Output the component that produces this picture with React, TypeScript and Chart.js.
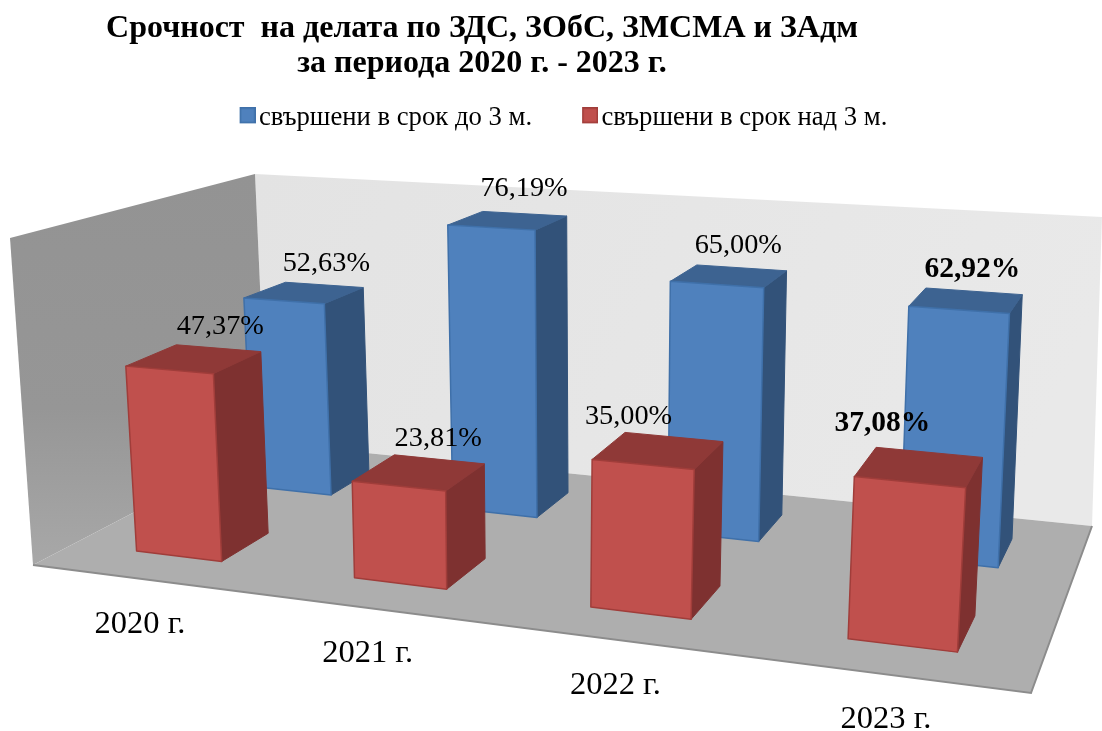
import React, { useEffect, useRef } from "react";
import { Chart, registerables } from "chart.js";

Chart.register(...registerables);

const categories = ["2020 г.", "2021 г.", "2022 г.", "2023 г."];
const onTimeLabel = "свършени в срок до 3 м.";
const lateLabel = "свършени в срок над 3 м.";
const onTimeValues = [52.63, 76.19, 65.0, 62.92];
const lateValues = [47.37, 23.81, 35.0, 37.08];
const titleLines = ["Срочност  на делата по ЗДС, ЗОбС, ЗМСМА и ЗАдм", "за периода 2020 г. - 2023 г."];
const axisMax = 80;

// ---- styling and 3D view settings ----
const SERIF = "'Liberation Serif', 'Times New Roman', serif";
type P = [number, number];
const FLOOR: P[] = [[33, 565], [1031, 693], [1092, 526], [267, 443]]; // front-left, front-right, back-right, back-left
const WALL_TOP: P[] = [[10, 238], [255, 174], [1102, 217]]; // left-front, left-back, right-back
const LEAN = [-23, 22, 14, -12]; // sideways shift of a full-height column at each floor corner
const HEIGHT = [316, 368, 304, 266]; // height of a full-height column at each floor corner
const DEPTH = [[0.65, 0.85], [0.15, 0.35]]; // per dataset, front and back depth
const BLUE = { front: "#4F81BD", side: "#325279", top: "#3D6391", edge: "#3F70A9" };
const RED = { front: "#C0504D", side: "#7E3130", top: "#8F3937", edge: "#A03D3A" };
const LABEL_SHIFT = [
  [[22, -29], [16, -32], [9, -30], [6, -31]],
  [[26, -32], [19, -34], [-30, -34], [-37, -43]],
];
const BOLD_INDEX = 3;

function quadMap(Q: P[], u: number, w: number): P {
  const [[x0, y0], [x1, y1], [x2, y2], [x3, y3]] = Q;
  const dx1 = x1 - x2, dx2 = x3 - x2, sx = x0 - x1 + x2 - x3;
  const dy1 = y1 - y2, dy2 = y3 - y2, sy = y0 - y1 + y2 - y3;
  const den = dx1 * dy2 - dx2 * dy1;
  const g = (sx * dy2 - dx2 * sy) / den;
  const h = (dx1 * sy - sx * dy1) / den;
  const t = g * u + h * w + 1;
  return [
    ((x1 - x0 + g * x1) * u + (x3 - x0 + h * x3) * w + x0) / t,
    ((y1 - y0 + g * y1) * u + (y3 - y0 + h * y3) * w + y0) / t,
  ];
}
function bilinear(c: number[], u: number, w: number) {
  return c[0] * (1 - u) * (1 - w) + c[1] * u * (1 - w) + c[2] * u * w + c[3] * (1 - u) * w;
}
function project(u: number, v: number, w: number): P {
  const a = quadMap(FLOOR, u, w);
  return [a[0] + bilinear(LEAN, u, w) * v, a[1] - bilinear(HEIGHT, u, w) * v];
}
function poly(ctx: CanvasRenderingContext2D, pts: P[], fill: string | CanvasGradient, stroke?: string, lw = 1) {
  ctx.beginPath();
  pts.forEach((p, i) => (i ? ctx.lineTo(p[0], p[1]) : ctx.moveTo(p[0], p[1])));
  ctx.closePath();
  ctx.fillStyle = fill;
  ctx.fill();
  if (stroke) {
    ctx.strokeStyle = stroke;
    ctx.lineWidth = lw;
    ctx.lineJoin = "round";
    ctx.stroke();
  }
}
function marker(fill: string, edge: string) {
  // the empty strip on the left and below places the square beside its text
  const c = document.createElement("canvas");
  c.width = 21;
  c.height = 22;
  const g = c.getContext("2d")!;
  g.fillStyle = edge;
  g.fillRect(5, 0, 16, 16);
  g.fillStyle = fill;
  g.fillRect(6.5, 1.5, 13, 13);
  return c;
}

const scene3d = {
  id: "scene3d",
  afterLayout(chart: any) {
    const t = chart.titleBlock;
    t.left -= 69;
    t.right -= 69;
    const l = chart.legend;
    l.left += 15;
    l.right += 15;
    l.top = 50;
  },
  beforeDatasetsDraw(chart: any) {
    const ctx: CanvasRenderingContext2D = chart.ctx;
    const area = chart.chartArea;
    const xs = chart.scales.x;
    const ys = chart.scales.y;
    const toU = (px: number) => (px - area.left) / (area.right - area.left);
    const toV = (py: number) => (area.bottom - py) / (area.bottom - area.top);

    // walls and floor
    const [tl, tb, tr] = WALL_TOP;
    const backGrad = ctx.createLinearGradient(255, 174, 1000, 520);
    backGrad.addColorStop(0, "#E3E3E3");
    backGrad.addColorStop(1, "#E9E9E9");
    poly(ctx, [project(0, 0, 1), project(1, 0, 1), tr, tb], backGrad);
    const leftGrad = ctx.createLinearGradient(0, 174, 0, 565);
    leftGrad.addColorStop(0, "#939393");
    leftGrad.addColorStop(0.6, "#969696");
    leftGrad.addColorStop(1, "#A8A8A8");
    poly(ctx, [project(0, 0, 0), project(0, 0, 1), tb, tl], leftGrad);
    poly(ctx, [project(0, 0, 0), project(1, 0, 0), project(1, 0, 1), project(0, 0, 1)], "#AEAEAE");
    ctx.beginPath();
    const a = project(0, 0, 0), b = project(1, 0, 0), c = project(1, 0, 1);
    ctx.moveTo(a[0], a[1]);
    ctx.lineTo(b[0], b[1]);
    ctx.lineTo(c[0], c[1]);
    ctx.strokeStyle = "#8C8C8C";
    ctx.lineWidth = 2;
    ctx.stroke();

    // bars, from the back row to the front row
    chart.data.datasets.forEach((_: any, di: number) => {
      const [w0, w1] = DEPTH[di];
      const col = di === 0 ? BLUE : RED;
      chart.getDatasetMeta(di).data.forEach((el: any) => {
        const u0 = toU(el.x - el.width / 2);
        const u1 = toU(el.x + el.width / 2);
        const v = toV(el.y);
        const v0 = toV(el.base);
        poly(ctx, [project(u1, v0, w0), project(u1, v0, w1), project(u1, v, w1), project(u1, v, w0)], col.side, col.side);
        poly(ctx, [project(u0, v, w0), project(u1, v, w0), project(u1, v, w1), project(u0, v, w1)], col.top, col.top);
        poly(ctx, [project(u0, v0, w0), project(u1, v0, w0), project(u1, v, w0), project(u0, v, w0)], col.front, col.edge, 1.5);
      });
    });

    // value labels
    ctx.textAlign = "center";
    ctx.textBaseline = "middle";
    ctx.fillStyle = "#000";
    chart.data.datasets.forEach((ds: any, di: number) => {
      const [w0, w1] = DEPTH[di];
      chart.getDatasetMeta(di).data.forEach((el: any, i: number) => {
        const [x, y] = project(toU(el.x), toV(el.y), (w0 + w1) / 2);
        const [dx, dy] = LABEL_SHIFT[di][i];
        ctx.font = i === BOLD_INDEX ? `bold 29.5px ${SERIF}` : `28.3px ${SERIF}`;
        const text = ds.data[i].toFixed(2).replace(".", ",") + "%";
        ctx.fillText(text, x + dx, y + dy);
      });
    });

    // category labels along the front edge of the floor
    ctx.font = `32.5px ${SERIF}`;
    categories.forEach((_, i) => {
      const [x, y] = project(toU(xs.getPixelForValue(i)), toV(ys.getPixelForValue(0)), 0);
      ctx.fillText(xs.getLabelForValue(i), x, y + 45.5);
    });
    return false;
  },
};

export default function App() {
  const ref = useRef<HTMLCanvasElement>(null);
  useEffect(() => {
    const markers = [marker(BLUE.front, BLUE.edge), marker(RED.front, RED.edge)];
    const chart = new Chart(ref.current!, {
      type: "bar",
      data: {
        labels: categories,
        datasets: [
          { label: onTimeLabel, data: onTimeValues, backgroundColor: BLUE.front, borderColor: BLUE.edge },
          { label: lateLabel, data: lateValues, backgroundColor: RED.front, borderColor: RED.edge },
        ],
      },
      options: {
        responsive: false,
        animation: false,
        events: [],
        datasets: { bar: { grouped: false, categoryPercentage: 1, barPercentage: 0.4 } },
        scales: {
          x: { display: false },
          y: { display: false, min: 0, max: axisMax },
        },
        plugins: {
          tooltip: { enabled: false },
          title: {
            display: true,
            text: titleLines,
            color: "#000",
            font: { family: SERIF, size: 32, weight: "bold", lineHeight: 35 / 32 },
            padding: { top: 11, bottom: 10 },
          },
          legend: {
            display: true,
            labels: {
              color: "#000",
              font: { family: SERIF, size: 26.7 },
              usePointStyle: true,
              pointStyleWidth: 1,
              padding: 55,
              generateLabels: (c: any) =>
                Chart.defaults.plugins.legend.labels.generateLabels(c).map((it: any, i: number) => ({
                  ...it,
                  pointStyle: markers[i],
                })),
            },
          },
        },
      } as any,
      plugins: [scene3d],
    });
    return () => chart.destroy();
  }, []);
  return (
    <div style={{ position: "absolute", left: 0, top: 0, width: 1102, height: 731 }}>
      <canvas ref={ref} width={1102} height={731} style={{ display: "block" }} />
    </div>
  );
}
